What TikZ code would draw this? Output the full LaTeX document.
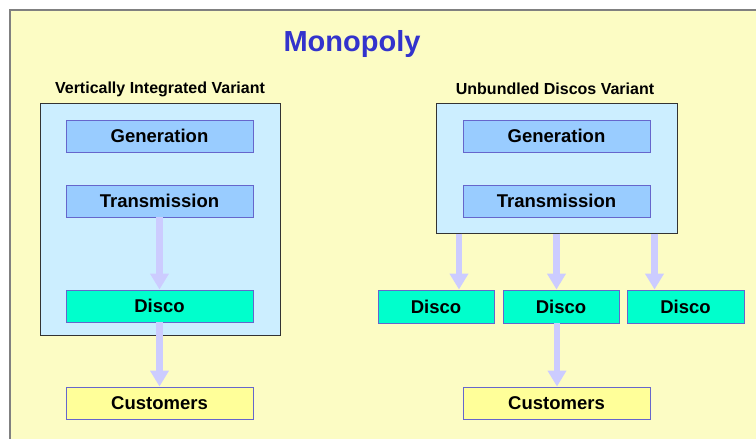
\documentclass[tikz,border=0pt]{standalone}
\usepackage{fontspec}
\setmainfont{Liberation Sans}
\usetikzlibrary{arrows.meta}
\definecolor{bgyellow}{HTML}{FCFCC4}
\definecolor{framegray}{HTML}{808080}
\definecolor{contblue}{HTML}{CCEEFF}
\definecolor{boxblue}{HTML}{99CCFF}
\definecolor{boxedge}{HTML}{6666CC}
\definecolor{discogreen}{HTML}{00FFCC}
\definecolor{custyellow}{HTML}{FFFF99}
\definecolor{arrowlav}{HTML}{CCCCFF}
\definecolor{titleblue}{HTML}{3333CC}
\tikzset{
  container/.style={draw=black!80, line width=1pt, fill=contblue, inner sep=0pt},
  unitbox/.style={draw=boxedge, line width=0.9pt, inner sep=0pt, minimum height=32pt,
    font=\bfseries\fontsize{18.5}{22}\selectfont, text=black},
  genbox/.style={unitbox, fill=boxblue, minimum width=187pt},
  discobox/.style={unitbox, fill=discogreen},
  custbox/.style={unitbox, fill=custyellow, minimum width=187pt},
  variantlabel/.style={font=\bfseries\fontsize{16}{19}\selectfont, text=black, inner sep=0pt},
  flow/.style={draw=arrowlav, line width=6.5pt, -{Triangle[width=18pt,length=16pt]}}
}
\begin{document}
\begin{tikzpicture}[x=1pt,y=-1pt]
\useasboundingbox (0,0) rectangle (756,439);
\fill[white] (0,0) rectangle (756,439);
\fill[bgyellow] (10,10) rectangle (756,439);
\draw[framegray, line width=1.5pt] (756,10) -- (10,10) -- (10,439);

\node[font=\bfseries\fontsize{29}{34}\selectfont, text=titleblue, inner sep=0pt] (title) at (352,44) {Monopoly};

% left variant
\node[variantlabel] (lab1) at (160,89) {Vertically Integrated Variant};
\node[container, minimum width=240pt, minimum height=232pt] (cont1) at (160,219) {};
\node[genbox] (gen1) at (159.5,136) {Generation};
\node[genbox] (tr1) at (159.5,201) {Transmission};
\node[discobox, minimum width=187pt] (disco1) at (159.5,306) {Disco};
\node[custbox] (cust1) at (159.5,403) {Customers};
\draw[flow] (tr1) -- (disco1);
\draw[flow] (disco1) -- (cust1);

% right variant
\node[variantlabel] (lab2) at (555,89) {Unbundled Discos Variant};
\node[container, minimum width=241pt, minimum height=130pt] (cont2) at (556.5,168) {};
\node[genbox] (gen2) at (556.5,136) {Generation};
\node[genbox] (tr2) at (556.5,201) {Transmission};
\node[discobox, minimum width=116pt, minimum height=33pt] (d2a) at (436,306.5) {Disco};
\node[discobox, minimum width=116pt, minimum height=33pt] (d2b) at (561,306.5) {Disco};
\node[discobox, minimum width=117pt, minimum height=33pt] (d2c) at (685.5,306.5) {Disco};
\node[custbox] (cust2) at (556.5,403) {Customers};
\coordinate (xa) at (459,0);
\coordinate (xb) at (556.5,0);
\coordinate (xc) at (654.5,0);
\coordinate (xd) at (557,0);
\draw[flow] (cont2.south -| xa) -- (d2a.north -| xa);
\draw[flow] (cont2.south -| xb) -- (d2b.north -| xb);
\draw[flow] (cont2.south -| xc) -- (d2c.north -| xc);
\draw[flow] (d2b.south -| xd) -- (cust2.north -| xd);
\end{tikzpicture}
\end{document}
